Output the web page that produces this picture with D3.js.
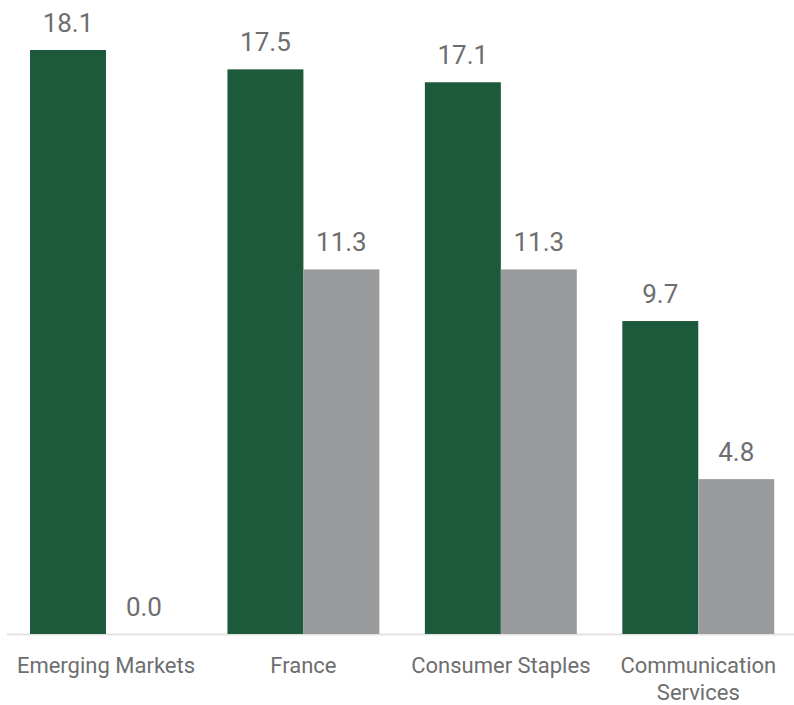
<!DOCTYPE html>
<html><head><meta charset="utf-8">
<script src="https://cdn.jsdelivr.net/npm/d3@7"></script>
<style>body{margin:0;background:#fff;}svg{display:block;font-family:Roboto,sans-serif;}</style>
</head><body>
<svg id="chart" width="794" height="705"></svg>
<script>
const categories = ["Emerging Markets", "France", "Consumer Staples", "Communication Services"];
const seriesNames = ["A", "B"];
const seriesA = [18.1, 17.5, 17.1, 9.7];
const seriesB = [0.0, 11.3, 11.3, 4.8];
const colors = ["#1d5a3c", "#9a9b9d"];

const svg = d3.select("#chart");
const baseline = 634;
const x0 = d3.scaleBand().domain(categories).range([7.25, 797]).paddingInner(0).paddingOuter(0);
const x1 = d3.scaleBand().domain(seriesNames).range([22.75, x0.bandwidth() - 22.75]).padding(0);
const y = d3.scaleLinear().domain([0, 18.1]).range([baseline, 50]);

const data = categories.map((c, i) => ({cat: c, vals: [seriesA[i], seriesB[i]]}));

svg.append("line").attr("x1", 7).attr("x2", 794).attr("y1", baseline + 0.5).attr("y2", baseline + 0.5)
  .attr("stroke", "#e3e3e3").attr("stroke-width", 2);

const g = svg.selectAll("g.cat").data(data).join("g").attr("class", "cat")
  .attr("transform", d => `translate(${x0(d.cat)},0)`);

g.selectAll("rect").data(d => d.vals.map((v, j) => ({v, s: seriesNames[j], j}))).join("rect")
  .attr("x", d => x1(d.s)).attr("width", x1.bandwidth())
  .attr("y", d => y(d.v)).attr("height", d => baseline - y(d.v))
  .attr("fill", d => colors[d.j]);

g.selectAll("text.val").data(d => d.vals.map((v, j) => ({v, s: seriesNames[j]}))).join("text")
  .attr("class", "val")
  .attr("x", d => x1(d.s) + x1.bandwidth() / 2).attr("y", d => y(d.v) - 18)
  .attr("text-anchor", "middle").attr("fill", "#6d6e70").attr("font-size", 26)
  .text(d => d.v.toFixed(1));

const labelLines = {"Communication Services": ["Communication", "Services"]};
g.append("text").attr("text-anchor", "middle").attr("fill", "#6d6e70").attr("font-size", 22)
  .attr("x", x0.bandwidth() / 2).attr("y", 673)
  .selectAll("tspan").data(d => labelLines[d.cat] || [d.cat]).join("tspan")
  .attr("x", x0.bandwidth() / 2).attr("dy", (d, i) => i === 0 ? 0 : 27).text(d => d);
</script>
</body></html>
